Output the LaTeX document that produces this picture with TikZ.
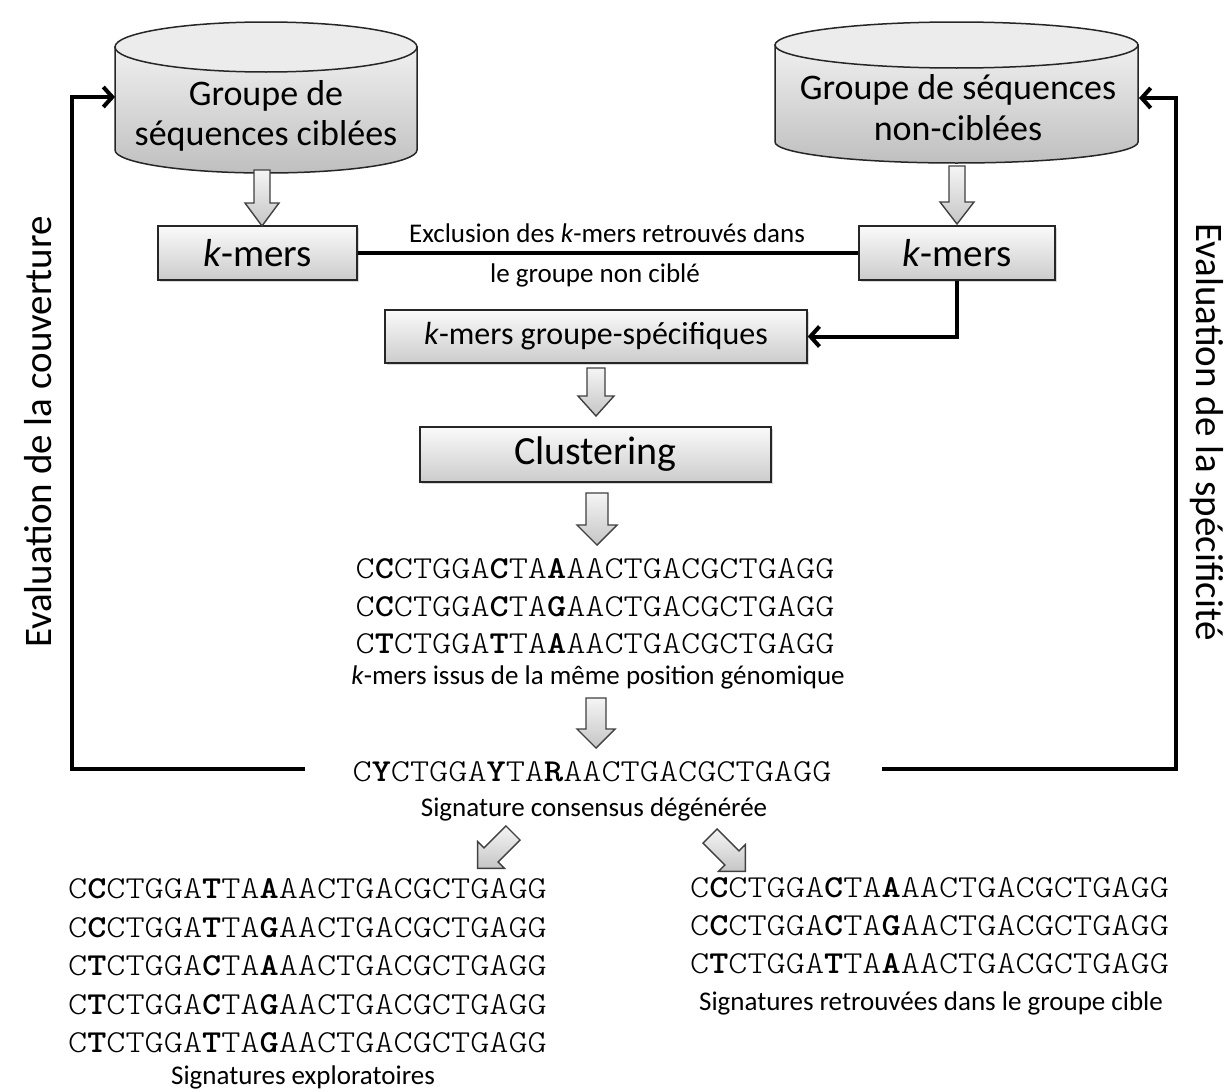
\documentclass[tikz,border=0pt]{standalone}
\usepackage{fontspec}
\setmainfont{Carlito}
\newfontfamily\seqfont{lmmonolt10-regular.otf}[BoldFont=lmmonolt10-bold.otf, FakeStretch=1.14]
\usetikzlibrary{arrows.meta,shadows,calc}
\newcommand\seqb[1]{\textbf{#1}}
\tikzset{
  fb/.style={line width=4pt, black},
  fbarrow/.style={fb, -{Straight Barb[length=9pt,width=20pt]}},
  cylbody/.style={draw=black!85, line width=1.5pt, top color=gray!12, bottom color=gray!50},
  cyltop/.style={draw=black!85, line width=1.5pt, fill=gray!15},
  box/.style={draw=black!85, line width=1.5pt, top color=gray!4, bottom color=gray!40, inner sep=0pt,
    drop shadow={opacity=0.3,shadow xshift=2pt,shadow yshift=-2pt}},
  barrowst/.style={draw=black!75, line width=1.4pt, top color=gray!8, bottom color=gray!45},
  seq/.style={font=\seqfont\fontsize{32}{38}\selectfont, inner sep=0pt, anchor=base},
  lbl/.style={font=\fontsize{27}{32}\selectfont, inner sep=0pt, anchor=base},
  cyltxt/.style={font=\fontsize{36}{37}\selectfont, inner sep=0pt, anchor=base},
  vtxt/.style={font=\fontsize{39}{40}\selectfont, inner sep=0pt},
  pics/barrow/.style n args={4}{code={%
    \path[barrowst] (-#3,0) -- (-#3,#1-#2) -- (-#4,#1-#2) -- (0,#1) -- (#4,#1-#2) -- (#3,#1-#2) -- (#3,0) -- cycle;}}
}
\begin{document}
\begin{tikzpicture}[x=1pt,y=-1pt]
\path[use as bounding box, fill=white] (0,0) rectangle (1229,1092);

% left cylinder
\path[cylbody] (115,47) -- (115,150) arc[start angle=180, end angle=0, x radius=151, y radius=23] -- (417,47) -- cycle;
\path[cyltop] (266,47) ellipse[x radius=151, y radius=25];
\node[cyltxt] (cylL1) at (266,105) {Groupe de};
\node[cyltxt] (cylL2) at (266,145) {séquences ciblées};
\coordinate (cylLw) at (115,97);

% right cylinder
\path[cylbody] (775,45) -- (775,142) arc[start angle=180, end angle=0, x radius=181.5, y radius=21] -- (1138,45) -- cycle;
\path[cyltop] (956.5,45) ellipse[x radius=181.5, y radius=23];
\node[cyltxt] (cylR1) at (958,99) {Groupe de séquences};
\node[cyltxt] (cylR2) at (958,140) {non-ciblées};
\coordinate (cylRe) at (1139,98);

% boxes
\node[box, minimum width=199pt, minimum height=54pt, font=\fontsize{39}{40}\selectfont] (kmL) at (257.5,253) {\textit{k}-mers};
\node[box, minimum width=196pt, minimum height=54pt, font=\fontsize{39}{40}\selectfont] (kmR) at (957,253) {\textit{k}-mers};
\node[box, minimum width=422pt, minimum height=53pt, font=\fontsize{32}{34}\selectfont] (gs) at (596,336.5) {\textit{k}-mers groupe-spécifiques};
\node[box, minimum width=351pt, minimum height=55pt, font=\fontsize{40}{42}\selectfont] (clu) at (595.5,454.5) {Clustering};

% exclusion
\draw[fb] (kmL.east) -- (kmR.west);
\node[lbl] (ex1) at (607,242) {Exclusion des \textit{k}-mers retrouvés dans};
\node[lbl] (ex2) at (595,282) {le groupe non ciblé};
\draw[fbarrow] (kmR.south) |- (gs.east);

% block arrows
\pic at (262,170) {barrow={56}{23}{8}{17}};
\pic at (957,166) {barrow={58}{22}{8}{17}};
\pic at (596,368) {barrow={48}{20}{9}{18}};
\pic at (597,493) {barrow={52}{20}{11}{20}};
\pic at (596,698) {barrow={50}{19}{10}{19}};
\pic[rotate=-45] at (513,833) {barrow={50}{19}{10}{19}};
\pic[rotate=45] at (710,836) {barrow={50}{19}{10}{19}};

% clustered k-mers
\node[seq] (m1) at (595,578) {C\seqb{C}CTGGA\seqb{C}TA\seqb{A}AACTGACGCTGAGG};
\node[seq] (m2) at (595,616) {C\seqb{C}CTGGA\seqb{C}TA\seqb{G}AACTGACGCTGAGG};
\node[seq] (m3) at (595,653) {C\seqb{T}CTGGA\seqb{T}TA\seqb{A}AACTGACGCTGAGG};
\node[lbl] (mlab) at (598,684) {\textit{k}-mers issus de la même position génomique};

% consensus
\node[seq] (cons) at (592,781) {C\seqb{Y}CTGGA\seqb{Y}TA\seqb{R}AACTGACGCTGAGG};
\node[lbl] (conslab) at (594,816) {Signature consensus dégénérée};

% feedback loops
\coordinate (fbLs) at (305,769);
\coordinate (fbRs) at (882,769);
\draw[fbarrow] (fbLs) -- (72,769) |- (cylLw);
\draw[fbarrow] (fbRs) -- (1176,769) |- (cylRe);
\node[vtxt, rotate=90] (evL) at (38,432) {Evaluation de la couverture};
\node[vtxt, rotate=-90] (evR) at (1207,432) {Evaluation de la spécificité};

% exploratory signatures
\node[seq] (e1) at (307.5,898) {C\seqb{C}CTGGA\seqb{T}TA\seqb{A}AACTGACGCTGAGG};
\node[seq] (e2) at (307.5,937) {C\seqb{C}CTGGA\seqb{T}TA\seqb{G}AACTGACGCTGAGG};
\node[seq] (e3) at (307.5,975) {C\seqb{T}CTGGA\seqb{C}TA\seqb{A}AACTGACGCTGAGG};
\node[seq] (e4) at (307.5,1014) {C\seqb{T}CTGGA\seqb{C}TA\seqb{G}AACTGACGCTGAGG};
\node[seq] (e5) at (307.5,1052) {C\seqb{T}CTGGA\seqb{T}TA\seqb{G}AACTGACGCTGAGG};
\node[lbl] (elab) at (303,1084) {Signatures exploratoires};

% signatures found in target group
\node[seq] (t1) at (929.5,897) {C\seqb{C}CTGGA\seqb{C}TA\seqb{A}AACTGACGCTGAGG};
\node[seq] (t2) at (929.5,935) {C\seqb{C}CTGGA\seqb{C}TA\seqb{G}AACTGACGCTGAGG};
\node[seq] (t3) at (929.5,973) {C\seqb{T}CTGGA\seqb{T}TA\seqb{A}AACTGACGCTGAGG};
\node[lbl] (tlab) at (931,1010) {Signatures retrouvées dans le groupe cible};
\end{tikzpicture}
\end{document}
